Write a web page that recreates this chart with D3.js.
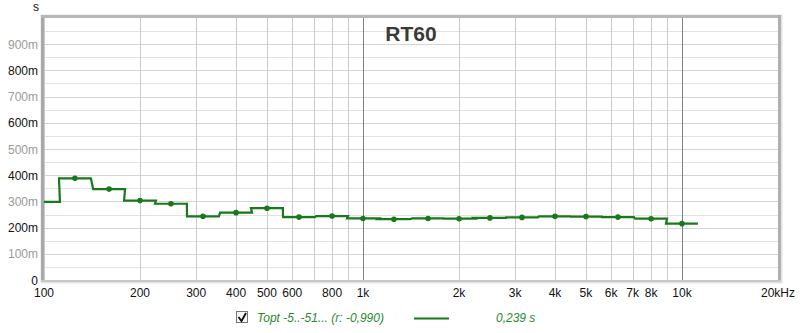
<!DOCTYPE html>
<html><head><meta charset="utf-8">
<script src="https://cdn.jsdelivr.net/npm/d3@7"></script>
<style>body{margin:0;background:#fff}svg{display:block;font-family:"Liberation Sans",Arial,sans-serif}</style>
</head><body><svg id="c" width="800" height="333"></svg>
<script>
const bands = [100,125,160,200,250,315,400,500,630,800,1000,1250,1600,2000,2500,3150,4000,5000,6300,8000,10000];
const rt60 = [0.298,0.388,0.347,0.303,0.291,0.243,0.257,0.274,0.240,0.244,0.235,0.232,0.235,0.234,0.237,0.239,0.243,0.242,0.240,0.234,0.215];
const xGrid = [100,200,300,400,500,600,700,800,900,1000,2000,3000,4000,5000,6000,7000,8000,9000,10000,20000];
const xTicks = [100,200,300,400,500,600,800,1000,2000,3000,4000,5000,6000,7000,8000,10000,20000];
const xTickLabels = ["100","200","300","400","500","600","800","1k","2k","3k","4k","5k","6k","7k","8k","10k","20kHz"];
const yTicks = [0,0.1,0.2,0.3,0.4,0.5,0.6,0.7,0.8,0.9];
const yTickLabels = ["0","100m","200m","300m","400m","500m","600m","700m","800m","900m"];
const title = "RT60";
const legendName = "Topt -5..-51... (r: -0,990)";
const legendValue = "0,239 s";

const svg = d3.select("#c");
const L=44, R=778, T=18, B=280;
const x = d3.scaleLog().domain([100,20000]).range([L,R]);
const y = d3.scaleLinear().domain([0,1]).range([B,T]);
const green = "#17791a";

// frame shadow
svg.append("rect").attr("x",L-2).attr("y",T-2).attr("width",R-L+5).attr("height",B-T+4)
  .attr("fill","none").attr("stroke","#e4e4e4").attr("stroke-width",3);
// horizontal grid
const yMinor = d3.range(0.05,1.0,0.1);
svg.append("g").selectAll("line").data(yMinor).join("line")
  .attr("x1",L).attr("x2",R).attr("y1",d=>Math.round(y(d))+0.5).attr("y2",d=>Math.round(y(d))+0.5)
  .attr("stroke","#e2e2e2");
svg.append("g").selectAll("line").data(yTicks.slice(1)).join("line")
  .attr("x1",L).attr("x2",R).attr("y1",d=>Math.round(y(d))+0.5).attr("y2",d=>Math.round(y(d))+0.5)
  .attr("stroke","#d4d4d4");
// vertical grid
svg.append("g").selectAll("line").data(xGrid).join("line")
  .attr("x1",d=>Math.round(x(d))+0.5).attr("x2",d=>Math.round(x(d))+0.5).attr("y1",T).attr("y2",B)
  .attr("stroke",d=>(d===1000||d===10000)?"#808080":"#cbcbcb");

// frame
svg.append("line").attr("x1",L-1.5).attr("x2",L-1.5).attr("y1",T-1).attr("y2",B+2).attr("stroke","#a8a8a8").attr("stroke-width",3);
svg.append("line").attr("x1",L-3).attr("x2",R+3).attr("y1",T-1.5).attr("y2",T-1.5).attr("stroke","#b8b8b8").attr("stroke-width",3);
svg.append("line").attr("x1",R+1.5).attr("x2",R+1.5).attr("y1",T-3).attr("y2",B+2).attr("stroke","#b0b0b0").attr("stroke-width",3);
svg.append("line").attr("x1",L-3).attr("x2",R+3).attr("y1",B+1).attr("y2",B+1).attr("stroke","#c8c8c8").attr("stroke-width",2);

// y labels
svg.append("g").selectAll("text").data(yTicks).join("text")
  .attr("x",38).attr("y",d=>y(d)+4.5).attr("text-anchor","end").attr("font-size",12)
  .attr("fill",(d,i)=>i%2===0?"#111":"#9a9a9a").text((d,i)=>yTickLabels[i]);
svg.append("text").attr("x",36).attr("y",11).attr("text-anchor","middle").attr("font-size",12).attr("fill","#111").text("s");
// x labels
svg.append("g").selectAll("text").data(xTicks).join("text")
  .attr("x",d=>x(d)).attr("y",297).attr("text-anchor","middle").attr("font-size",12)
  .attr("fill","#111").text((d,i)=>xTickLabels[i]);

// title
svg.append("text").attr("x",411).attr("y",41).attr("text-anchor","middle").attr("font-size",21)
  .attr("font-weight","bold").attr("fill","#3a3a3a").text(title);

// data
svg.append("clipPath").attr("id","clip").append("rect").attr("x",L).attr("y",T).attr("width",R-L).attr("height",B-T);
const pts = [];
bands.forEach((f,i)=>{ pts.push([f*Math.pow(10,-0.05),rt60[i]]); pts.push([f*Math.pow(10,0.05),rt60[i]]); });
const line = d3.line().x(d=>x(d[0])).y(d=>y(d[1]));
const g = svg.append("g").attr("clip-path","url(#clip)");
g.append("path").attr("d",line(pts)).attr("fill","none").attr("stroke",green).attr("stroke-width",2.2);
g.selectAll("circle").data(bands.slice(1)).join("circle")
  .attr("cx",d=>x(d)).attr("cy",(d,i)=>y(rt60[i+1])).attr("r",2.8).attr("fill",green);

// legend
svg.append("rect").attr("x",236.5).attr("y",311.5).attr("width",11).attr("height",11).attr("fill","#f4f4f4").attr("stroke","#777");
svg.append("path").attr("d","M238.5,317 L241.5,321 L246,313").attr("fill","none").attr("stroke","#111").attr("stroke-width",1.8);
svg.append("text").attr("x",257).attr("y",322).attr("font-size",12).attr("font-style","italic").attr("fill","#2b8a2b").text(legendName);
svg.append("line").attr("x1",414).attr("x2",449).attr("y1",318.5).attr("y2",318.5).attr("stroke",green).attr("stroke-width",2);
svg.append("text").attr("x",496).attr("y",322).attr("font-size",12).attr("font-style","italic").attr("fill","#2b8a2b").text(legendValue);
</script></body></html>
